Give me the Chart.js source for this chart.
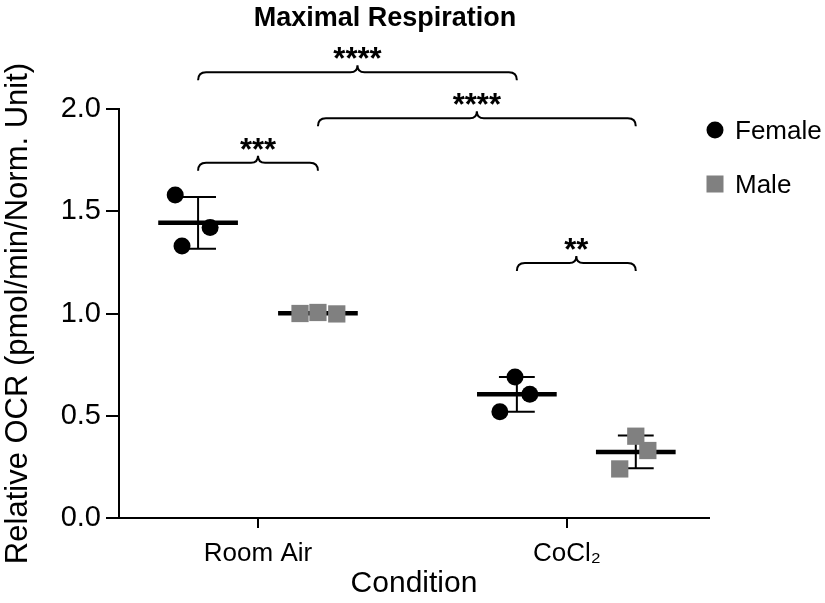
<!DOCTYPE html>
<html><head><meta charset="utf-8">
<script src="https://cdn.jsdelivr.net/npm/chart.js@4/dist/chart.umd.min.js"></script>
<style>html,body{margin:0;padding:0;background:#fff}</style>
</head><body>
<canvas id="c" width="825" height="603"></canvas>
<script>
// ---- data ----
const conditions = ['Room Air', 'CoCl\u2082'];
const seriesNames = ['Female', 'Male'];
const femaleValues = [[1.58, 1.42, 1.33], [0.69, 0.605, 0.52]];
const maleValues   = [[1.0, 1.005, 0.998], [0.40, 0.33, 0.24]];
// horizontal jitter of each point inside its group (x units)
const femaleJitter = [[-0.074, 0.039, -0.052], [-0.006, 0.042, -0.055]];
const maleJitter   = [[-0.058, 0.0, 0.061], [0.0, 0.039, -0.052]];
// group centre offsets from the condition tick [female, male] per condition (x units)
const groupOffsets = [[-0.194, 0.194], [-0.162, 0.223]];
const yTicks = [0, 0.5, 1.0, 1.5, 2.0];
// comparisons: [condition, sex] with sex 0 = Female, 1 = Male
const comparisons = [
  {a: [0, 0], b: [1, 0], label: '****', level: 2.18},
  {a: [0, 1], b: [1, 1], label: '****', level: 1.955},
  {a: [0, 0], b: [0, 1], label: '***',  level: 1.737},
  {a: [1, 0], b: [1, 1], label: '**',   level: 1.247}
];

// ---- styling ----
const FONT = '"Liberation Sans", Arial, Helvetica, sans-serif';
const femaleColor = '#000000';
const maleColor = '#808080';
const allValues = [femaleValues, maleValues];
const allJitter = [femaleJitter, maleJitter];

function groupX(c, s) { return (c + 1) + groupOffsets[c][s]; }
function stats(v) {
  const m = v.reduce((a, b) => a + b, 0) / v.length;
  const sd = Math.sqrt(v.reduce((a, b) => a + (b - m) * (b - m), 0) / (v.length - 1));
  return {m, sd};
}
function pts(s) {
  const out = [];
  allValues[s].forEach((vals, c) => vals.forEach((v, i) => out.push({x: groupX(c, s) + allJitter[s][c][i], y: v})));
  return out;
}

const annot = {
  id: 'annot',
  beforeDatasetsDraw(chart) {
    const ctx = chart.ctx, xs = chart.scales.x, ys = chart.scales.y;
    ctx.save();
    ctx.strokeStyle = '#000';
    for (let s = 0; s < 2; s++) {
      for (let c = 0; c < conditions.length; c++) {
        const {m, sd} = stats(allValues[s][c]);
        const gx = groupX(c, s);
        const cx = xs.getPixelForValue(gx);
        const yT = ys.getPixelForValue(m + sd), yB = ys.getPixelForValue(m - sd), yM = ys.getPixelForValue(m);
        const cap = xs.getPixelForValue(gx + 0.058) - cx;
        const half = xs.getPixelForValue(gx + 0.129) - cx;
        ctx.lineWidth = 2;
        ctx.beginPath();
        ctx.moveTo(cx, yT); ctx.lineTo(cx, yB);
        ctx.moveTo(cx - cap, yT); ctx.lineTo(cx + cap, yT);
        ctx.moveTo(cx - cap, yB); ctx.lineTo(cx + cap, yB);
        ctx.stroke();
        ctx.lineWidth = 4.5;
        ctx.beginPath();
        ctx.moveTo(cx - half, yM); ctx.lineTo(cx + half, yM);
        ctx.stroke();
      }
    }
    ctx.restore();
  },
  afterDraw(chart) {
    const ctx = chart.ctx, xs = chart.scales.x, ys = chart.scales.y, area = chart.chartArea;
    ctx.save();
    // brackets
    ctx.strokeStyle = '#000';
    ctx.fillStyle = '#000';
    ctx.lineWidth = 2;
    comparisons.forEach(cmp => {
      const x1 = xs.getPixelForValue(groupX(cmp.a[0], cmp.a[1]));
      const x2 = xs.getPixelForValue(groupX(cmp.b[0], cmp.b[1]));
      const y = ys.getPixelForValue(cmp.level);
      const xm = (x1 + x2) / 2;
      ctx.beginPath();
      ctx.moveTo(x1, y + 8);
      ctx.quadraticCurveTo(x1, y, x1 + 8, y);
      ctx.lineTo(xm - 7, y);
      ctx.quadraticCurveTo(xm, y, xm, y - 7);
      ctx.quadraticCurveTo(xm, y, xm + 7, y);
      ctx.lineTo(x2 - 8, y);
      ctx.quadraticCurveTo(x2, y, x2, y + 8);
      ctx.stroke();
      ctx.font = 'bold 31px ' + FONT;
      ctx.textAlign = 'center';
      ctx.textBaseline = 'alphabetic';
      const mt = ctx.measureText(cmp.label);
      const cy = y - 19;
      ctx.fillText(cmp.label, xm, cy + (mt.actualBoundingBoxAscent - mt.actualBoundingBoxDescent) / 2);
    });
    // title
    ctx.font = 'bold 27px ' + FONT;
    ctx.textAlign = 'center';
    ctx.textBaseline = 'alphabetic';
    ctx.fillText('Maximal Respiration', (area.left + area.right) / 2 - 29, 26);
    // legend
    const lx = area.right + 6;
    ctx.font = '26px ' + FONT;
    ctx.textAlign = 'left';
    ctx.textBaseline = 'middle';
    ctx.fillStyle = femaleColor;
    ctx.beginPath(); ctx.arc(lx, 130, 8.5, 0, Math.PI * 2); ctx.fill();
    ctx.fillStyle = '#000';
    ctx.fillText(seriesNames[0], lx + 20, 132);
    ctx.fillStyle = maleColor;
    ctx.fillRect(lx - 8.5, 184 - 8.5, 17, 17);
    ctx.fillStyle = '#000';
    ctx.fillText(seriesNames[1], lx + 20, 186);
    ctx.restore();
  }
};

Chart.defaults.color = '#000';
Chart.defaults.font.family = FONT;

new Chart(document.getElementById('c'), {
  type: 'scatter',
  data: {
    datasets: [
      {label: seriesNames[0], data: pts(0), pointStyle: 'circle', pointRadius: 8.5, backgroundColor: femaleColor, borderWidth: 0},
      {label: seriesNames[1], data: pts(1), pointStyle: 'rect', pointRadius: 12.2, backgroundColor: maleColor, borderWidth: 0}
    ]
  },
  options: {
    responsive: false,
    animation: false,
    devicePixelRatio: 1,
    events: [],
    layout: {padding: {top: 109, right: 116, left: 0, bottom: 0}},
    plugins: {legend: {display: false}, tooltip: {enabled: false}},
    scales: {
      x: {
        type: 'linear', min: 0.55, max: 2.46,
        afterBuildTicks: s => { s.ticks = conditions.map((_, i) => ({value: i + 1})); },
        afterFit: s => { s.height = 85; },
        ticks: {callback: v => conditions[Math.round(v) - 1], font: {size: 26}, padding: 10, maxRotation: 0, autoSkip: false},
        grid: {display: true, drawOnChartArea: false, drawTicks: true, tickLength: 10, color: '#000', lineWidth: 2},
        border: {display: true, color: '#000', width: 2},
        title: {display: true, text: 'Condition', font: {size: 30, lineHeight: 1.2}, padding: {top: 0, bottom: 1}}
      },
      y: {
        min: 0, max: 2,
        afterBuildTicks: s => { s.ticks = yTicks.map(v => ({value: v})); },
        afterFit: s => { s.width = 119; },
        ticks: {callback: v => v.toFixed(1), font: {size: 29}, padding: 5},
        grid: {display: true, drawOnChartArea: false, drawTicks: true, tickLength: 13, color: '#000', lineWidth: 2},
        border: {display: true, color: '#000', width: 2},
        title: {display: true, text: 'Relative OCR (pmol/min/Norm. Unit)', font: {size: 31, lineHeight: 1.2}, padding: {top: 0, bottom: 0}}
      }
    }
  },
  plugins: [annot]
});
</script>
</body></html>
